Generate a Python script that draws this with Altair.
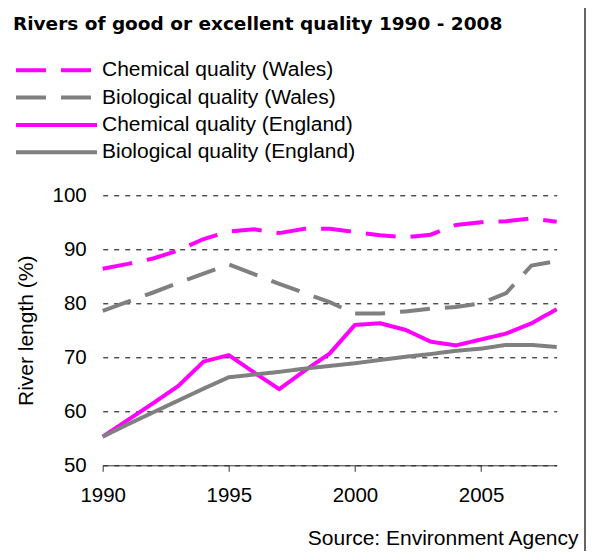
import altair as alt
import pandas as pd

years = list(range(1990, 2009))
series_names = [
    "Chemical quality (Wales)",
    "Biological quality (Wales)",
    "Chemical quality (England)",
    "Biological quality (England)",
]
chem_wales = [86.4, 87.3, 88.3, 89.8, 91.9, 93.3, 93.7, 93.0, 93.8, 93.8, 93.2, 92.6, 92.2, 92.7, 94.5, 95.0, 95.2, 95.7, 95.1]
bio_wales = [78.6, 80.3, 82.0, 83.8, 85.5, 87.2, 85.4, 83.6, 81.9, 80.2, 78.1, 78.1, 78.5, 79.0, 79.3, 80.0, 81.9, 87.0, 87.8]
chem_eng = [55.3, 58.4, 61.5, 64.7, 69.2, 70.4, 67.2, 64.1, 67.5, 70.7, 76.0, 76.3, 75.1, 72.9, 72.2, 73.3, 74.4, 76.3, 78.9]
bio_eng = [55.3, 57.6, 59.8, 62.0, 64.2, 66.3, 66.8, 67.3, 67.9, 68.4, 68.9, 69.5, 70.1, 70.6, 71.2, 71.6, 72.3, 72.3, 71.9]
x_ticks = [1990, 1995, 2000, 2005]
y_ticks = [50, 60, 70, 80, 90, 100]

series_values = [chem_wales, bio_wales, chem_eng, bio_eng]
rows = []
for name, vals in zip(series_names, series_values):
    for yr, v in zip(years, vals):
        rows.append({"year": yr, "value": v, "series": name})
df = pd.DataFrame(rows)

FONT = "Liberation Sans"

legend_props = dict(
    orient="none",
    legendX=-61.7,
    legendY=-140.5,
    title=None,
    symbolType="M-3,0H3",
    symbolSize=729,
    symbolStrokeWidth=4,
    labelFontSize=21,
    labelOffset=30,
    labelColor="black",
    labelFont=FONT,
    labelLimit=0,
    rowPadding=1.3,
    padding=0,
)

lines = alt.Chart(df).mark_line(strokeWidth=4, clip=False).encode(
    x=alt.X(
        "year:Q",
        scale=alt.Scale(domain=[1990, 2008], nice=False, zero=False),
        axis=alt.Axis(
            values=x_ticks, format="d", grid=False, labelFlush=False,
            title="Source: Environment Agency",
            titleX=475.3, titleY=79, titleAlign="right", titleBaseline="alphabetic",
            titleFontWeight="normal", titleFontSize=21, titleColor="black", titleFont=FONT,
            labelFontSize=20.5, labelColor="black", labelFont=FONT, labelPadding=14,
            tickSize=6, tickColor="#333333", domainColor="#333333", domainWidth=1,
        ),
    ),
    y=alt.Y(
        "value:Q",
        scale=alt.Scale(domain=[50, 100], nice=False, zero=False),
        axis=alt.Axis(
            values=y_ticks, grid=True, gridDash=[5, 6], gridColor="black", gridWidth=1,
            gridOpacity=1, domain=False, ticks=False, labelPadding=16.5,
            labelFontSize=20.5, labelColor="black", labelFont=FONT,
            title="River length (%)", titleX=-76, titleY=135, titleAlign="center",
            titleBaseline="middle", titleAngle=270,
            titleFontWeight="normal", titleFontSize=21, titleColor="black", titleFont=FONT,
        ),
    ),
    color=alt.Color(
        "series:N",
        scale=alt.Scale(domain=series_names, range=["#FF00FF", "#808080", "#FF00FF", "#808080"]),
        legend=alt.Legend(**legend_props),
    ),
    strokeDash=alt.StrokeDash(
        "series:N",
        scale=alt.Scale(domain=series_names, range=[[30, 15], [30, 15], [1, 0], [1, 0]]),
        legend=alt.Legend(**legend_props),
    ),
)

border = alt.Chart(pd.DataFrame({"a": [0]})).mark_rule(color="#333333", strokeWidth=1.5).encode(
    x=alt.value(482.3), y=alt.value(-187.3), y2=alt.value(356)
)

chart = alt.layer(lines, border).properties(
    width=454,
    height=270,
    autosize="none",
    padding={"left": 94.7, "top": 187.3, "right": 29.3, "bottom": 86},
    title=alt.Title(
        "Rivers of good or excellent quality 1990 - 2008",
        anchor="start", frame="group", fontSize=18.5, fontWeight="bold",
        font="DejaVu Sans", color="black", dx=-89.7, dy=41, offset=0,
        baseline="alphabetic",
    ),
).configure(font=FONT).configure_view(stroke=None)

chart.save("out.html", embed_options={"renderer": "svg", "actions": False})
